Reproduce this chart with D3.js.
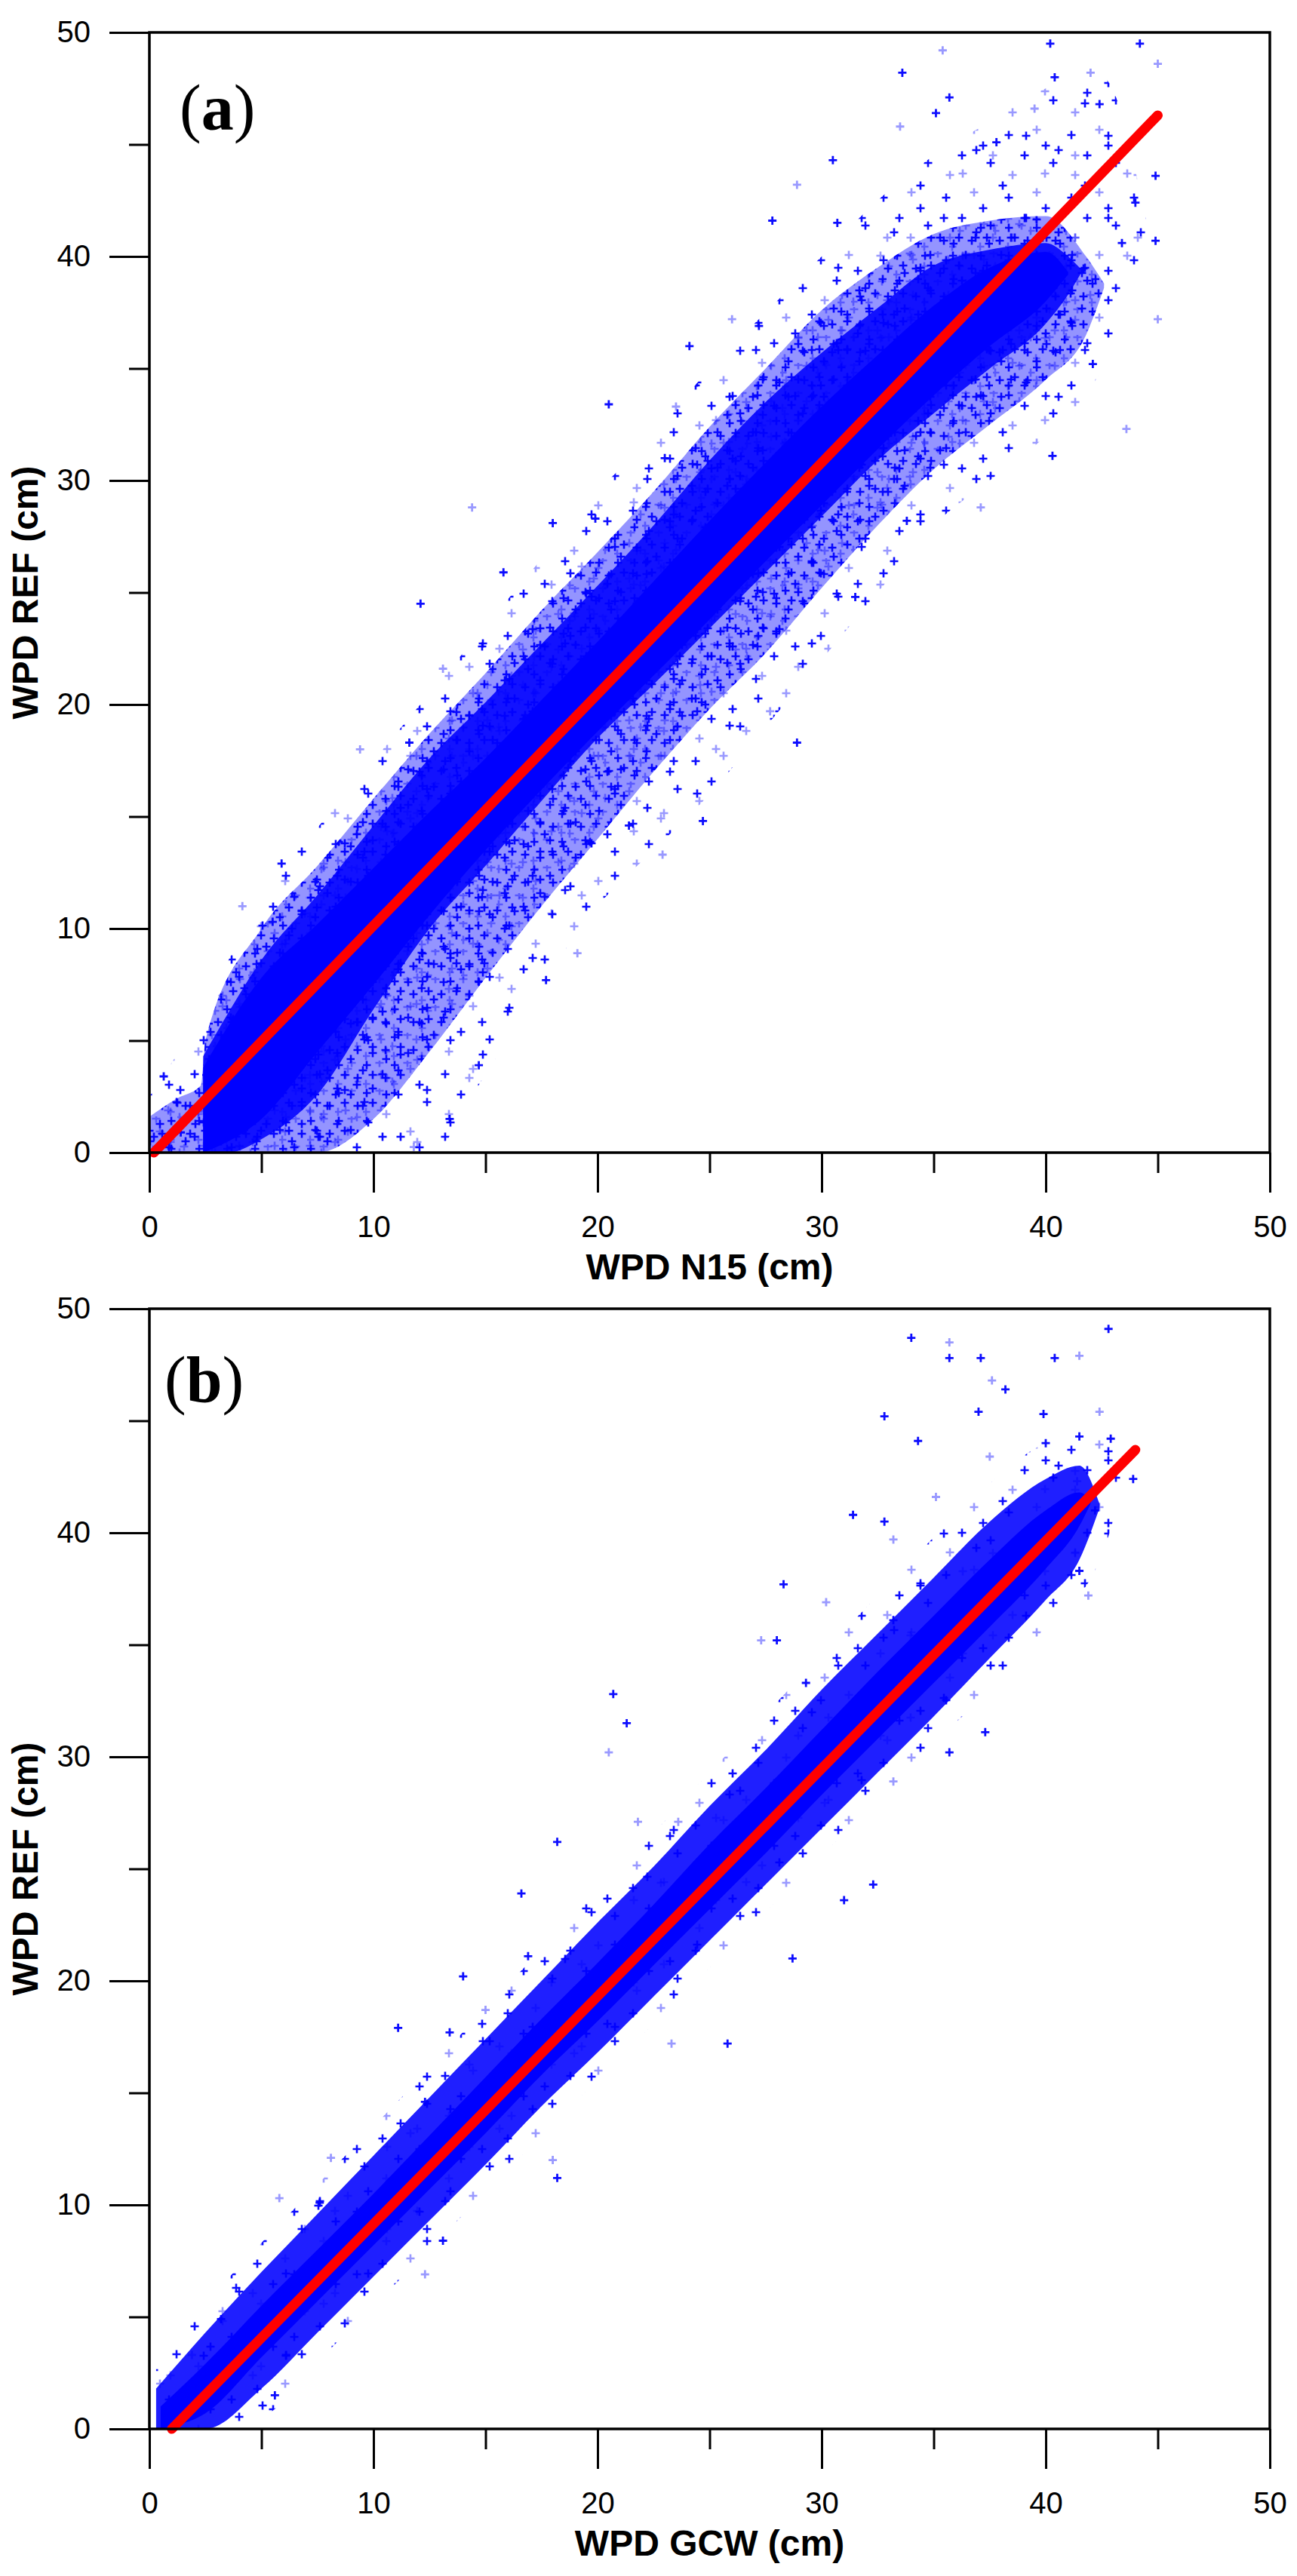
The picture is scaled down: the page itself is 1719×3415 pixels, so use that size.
<!DOCTYPE html>
<html>
<head>
<meta charset="utf-8">
<script src="https://cdn.jsdelivr.net/npm/d3@7"></script>
<style>
    body { margin: 0; background: #fff; }
    .tick text { font-family: "Liberation Sans", Arial, sans-serif; font-size: 40px; fill: #000; }
    .axis-title { font-family: "Liberation Sans", Arial, sans-serif; font-size: 48px; font-weight: bold; fill: #000; }
    .panel-label { font-family: "Liberation Serif", "Times New Roman", serif; font-size: 86px; fill: #000; }
</style>
</head>
<body>
<div id="chart"></div>
<script>
//axis ticks
const majorTicks = [0, 10, 20, 30, 40, 50];
const minorTicks = [5, 15, 25, 35, 45];

//panel (a): WPD N15 vs WPD REF, bands of the point cloud
//outer band of scattered crosses
const aSparseX = [0, 2.5, 5, 7.5, 10, 12.5, 15, 17.5, 20, 22.5, 25, 27.5, 30, 32.5, 35, 37.5, 40, 42.5, 44.5];
const aSparseLo = [0, 0, 0, 0, 0, 0, 3.5, 7.5, 11, 13.5, 16, 19, 22, 25, 28, 30, 32, 35, 40.5];
const aSparseHi = [2.5, 6.5, 11.5, 14.5, 17.5, 20.5, 23.5, 26.5, 29.5, 32, 35, 37.5, 40, 42.5, 44.5, 46, 47.5, 48, 41.5];
//speckled band
const aSpeckleX = [0, 1.2, 2.3, 2.5, 5, 7.5, 10, 12.5, 15, 17.5, 20, 22.5, 25, 27.5, 30, 32.5, 35, 37.5, 40, 41.8, 42.6];
const aSpeckleLo = [0, 0, 0, 0, 0, 0, 1.5, 4.5, 7.8, 11, 14, 17, 19.8, 22.3, 25.2, 28, 30.5, 32.5, 34.5, 36.5, 38.6];
const aSpeckleHi = [1.6, 2.4, 3.0, 5.0, 10, 12.8, 15.8, 18.7, 21.4, 24.2, 26.8, 29.5, 32.4, 35, 37.6, 39.5, 41, 41.6, 41.8, 40, 38.8];
//dense band
const aDenseX = [2.4, 3.5, 5, 7.5, 10, 12.5, 15, 17.5, 20, 22.5, 25, 27.5, 30, 32.5, 35, 37.5, 40, 41, 41.6];
const aDenseLo = [0, 0, 0.6, 2.6, 6.4, 10.0, 12.8, 15.7, 18.5, 20.9, 23.4, 25.9, 28.4, 30.9, 33.0, 35.0, 37.0, 38.3, 39.3];
const aDenseHi = [4.3, 6.2, 8.6, 11.5, 14.6, 17.6, 20.1, 22.7, 25.3, 28.0, 30.9, 33.5, 35.7, 37.7, 39.6, 40.3, 40.6, 40.0, 39.4];
//solid core
const aSolidX = [2.4, 5, 7.5, 10, 12.5, 15, 17.5, 20, 22.5, 25, 27.5, 30, 32.5, 35, 37.5, 40, 41];
const aSolidLo = [0, 1.5, 4.5, 7.5, 10.6, 13.5, 16.2, 18.8, 21.3, 23.8, 26.4, 28.9, 31.4, 33.8, 36.0, 38.0, 39.2];
const aSolidHi = [3.8, 7.8, 10.2, 12.7, 15.2, 17.6, 20.2, 22.8, 25.5, 28.2, 30.8, 33.3, 35.6, 37.8, 39.5, 40.2, 39.3];
//isolated points
const aOutX = [4.15, 5.9, 5.5, 9.4, 11.6, 12.1, 14.4, 15.8, 18.0, 13.1, 19.9, 20.5, 23.5, 23.0, 24.1, 26.0, 27.2, 27.8, 28.9, 30.5,
    30.7, 33.5, 33.6, 35.1, 35.4, 35.7, 37.8, 39.5, 40.2, 40.4, 42.0, 42.4, 44.2, 45.0, 44.9, 44.9, 45.0, 44.0, 43.4, 43.6,
    42.1, 40.3, 37.1, 33.8, 31.5, 27.7, 28.9, 24.7, 22.9, 21.4, 17.7, 19.1, 14.7, 13.4, 11.8, 0.64, 1.4];
const aOutY = [11.0, 12.9, 10.3, 18.0, 18.3, 24.5, 28.8, 25.9, 28.1, 21.6, 28.3, 33.4, 33.3, 31.0, 36.0, 37.2, 36.9, 41.6, 43.2, 44.3,
    41.5, 45.8, 48.2, 46.4, 49.2, 47.1, 45.1, 46.6, 49.5, 48.0, 48.2, 46.8, 49.5, 48.6, 43.6, 40.7, 37.2, 42.4, 40.6, 32.3,
    35.2, 31.1, 28.8, 28.2, 24.8, 19.7, 18.3, 14.8, 13.3, 14.6, 7.7, 8.9, 3.9, 1.5, 0.25, 3.4, 0.9];
//fitted line
const aFitX = [0.2, 45];
const aFitY = [0, 46.3];

//panel (b): WPD GCW vs WPD REF
const bSparseX = [0.3, 2.5, 5, 7.5, 10, 12.5, 15, 17.5, 20, 22.5, 25, 27.5, 30, 32.5, 35, 37.5, 40, 42.5, 43.5];
const bSparseLo = [0, 0, 0.5, 3.0, 5.5, 8.0, 10.6, 13.1, 15.6, 18.1, 20.6, 23.1, 25.6, 28.1, 30.6, 33.0, 35.8, 39.0, 42.3];
const bSparseHi = [3.0, 5.6, 8.3, 10.9, 13.5, 16.1, 18.8, 21.4, 24.0, 26.6, 29.3, 31.9, 34.6, 37.2, 39.8, 42.2, 44.0, 44.5, 42.7];
const bDenseX = [0.3, 2.5, 5, 7.5, 10, 12.5, 15, 17.5, 20, 22.5, 25, 27.5, 30, 32.5, 35, 37.5, 40, 41.5, 42.4];
const bDenseLo = [0, 0, 1.8, 4.3, 6.8, 9.3, 11.8, 14.4, 16.8, 19.3, 21.8, 24.3, 26.8, 29.3, 31.8, 34.4, 37.0, 38.8, 41.1];
const bDenseHi = [1.8, 4.3, 7.0, 9.6, 12.2, 14.8, 17.4, 20.0, 22.6, 25.1, 27.8, 30.3, 33.0, 35.5, 38.0, 40.5, 42.4, 43.0, 41.3];
const bSolidX = [0.5, 2.5, 5, 7.5, 10, 12.5, 15, 17.5, 20, 22.5, 25, 27.5, 30, 32.5, 35, 37.5, 40, 41.5, 42.0];
const bSolidLo = [0, 0.7, 3.2, 5.7, 8.2, 10.7, 13.2, 15.8, 18.2, 20.7, 23.2, 25.7, 28.3, 30.8, 33.3, 35.8, 38.4, 40.3, 41.3];
const bSolidHi = [1.0, 2.9, 5.5, 8.0, 10.5, 13.1, 15.7, 18.3, 20.8, 23.4, 26.1, 28.6, 31.2, 33.8, 36.3, 38.8, 41.0, 41.8, 41.5];
const bOutX = [5.8, 11.1, 13.4, 18.0, 18.2, 16.9, 20.5, 20.7, 21.3, 21.8, 32.3, 31.0, 27.3, 28.0, 28.3, 30.2, 31.4, 32.8, 33.2, 32.8,
    34.0, 35.7, 35.7, 37.1, 37.6, 38.2, 40.4, 41.5, 42.8, 41.5, 42.4, 42.9, 43.9, 41.4, 42.2, 41.5, 41.9, 37.3, 35.7, 33.2,
    39.9, 37.0, 37.5, 40.0, 34.3, 35.1, 33.2, 29.3, 23.6, 18.2, 16.6, 15.0, 14.0, 12.3, 8.1, 7.6, 3.2, 1.9, 5.6, 6.1,
    12.3, 13.1, 25.8, 23.3, 28.7];
const bOutY = [10.3, 17.9, 17.7, 12.0, 11.2, 21.1, 30.2, 32.8, 31.5, 27.1, 24.3, 23.6, 35.2, 35.2, 37.7, 36.9, 40.8, 40.5, 39.7, 45.2,
    48.7, 48.5, 47.8, 47.8, 46.8, 46.4, 47.8, 47.9, 49.1, 44.3, 45.4, 44.2, 42.4, 42.3, 41.0, 38.3, 37.2, 31.1, 30.2, 28.9,
    45.3, 45.4, 43.4, 44.0, 44.1, 41.6, 36.1, 33.3, 27.1, 26.2, 23.9, 18.7, 20.2, 14.6, 12.1, 10.1, 4.9, 3.3, 1.5, 3.3,
    6.9, 8.4, 17.2, 17.2, 21.0];
const bFitX = [1.0, 44.0];
const bFitY = [0, 43.7];

//page and plot geometry
const width = 1719, height = 3415;
const plotLeft = 198, plotSize = 1485;
const crossPath = 'M-5.5,0H5.5M0,-5.5V5.5';

const svg = d3.select('#chart')
    .append('svg')
    .attr('width', width)
    .attr('height', height);

//cross textures for the thinner parts of the cloud
//two tile sizes per texture so the repeat is less obvious
const defs = svg.append('defs');
function crossPattern(id, size, spots) {
    const p = defs.append('pattern')
        .attr('id', id)
        .attr('patternUnits', 'userSpaceOnUse')
        .attr('width', size)
        .attr('height', size);
    spots.forEach((s, i) => {
        p.append('path')
            .attr('d', crossPath)
            .attr('transform', 'translate(' + s[0] + ',' + s[1] + ')')
            .attr('stroke', '#0000ff')
            .attr('stroke-width', 2.6)
            .attr('stroke-opacity', i % 3 === 1 ? 0.4 : 0.95)
            .attr('fill', 'none');
    });
}
crossPattern('sparseCross1', 83, [[9, 13], [46, 6], [30, 40], [68, 50], [14, 66], [58, 27]]);
crossPattern('sparseCross2', 109, [[21, 28], [77, 12], [52, 71], [95, 90], [8, 97]]);
crossPattern('denseCross1', 37, [[5, 6], [22, 3], [13, 19], [30, 23], [4, 31]]);
crossPattern('denseCross2', 47, [[11, 9], [35, 15], [24, 33], [42, 41], [3, 24]]);

function zip(xs, ys) {
    return xs.map((x, i) => ({x: x, y: ys[i]}));
}

function band(xs, lo, hi) {
    return xs.map((x, i) => ({x: x, lo: lo[i], hi: hi[i]}));
}

function drawPanel(top, label, labelDx, labelDy, xTitle, d) {
    const xScale = d3.scaleLinear().domain([0, 50]).range([plotLeft, plotLeft + plotSize]);
    const yScale = d3.scaleLinear().domain([0, 50]).range([top + plotSize, top]);

    const g = svg.append('g');

    const area = d3.area()
        .curve(d3.curveMonotoneX)
        .x(p => xScale(p.x))
        .y0(p => yScale(p.lo))
        .y1(p => yScale(p.hi));

    //point cloud, drawn from the outside in
    const layers = [
        {x: d.sparseX, lo: d.sparseLo, hi: d.sparseHi, base: 0, textures: ['sparseCross1', 'sparseCross2']},
        {x: d.speckleX, lo: d.speckleLo, hi: d.speckleHi, base: 0.42, textures: ['denseCross1', 'denseCross2']},
        {x: d.denseX, lo: d.denseLo, hi: d.denseHi, base: 0.88, textures: []},
        {x: d.solidX, lo: d.solidLo, hi: d.solidHi, base: 1, textures: []}
    ];
    layers.forEach(l => {
        if (!l.x) return;
        const shape = band(l.x, l.lo, l.hi);
        if (l.base > 0) {
            g.append('path')
                .datum(shape)
                .attr('d', area)
                .attr('fill', '#0000ff')
                .attr('fill-opacity', l.base);
        }
        l.textures.forEach(t => {
            g.append('path')
                .datum(shape)
                .attr('d', area)
                .attr('fill', 'url(#' + t + ')');
        });
    });

    //single crosses away from the cloud
    g.append('g')
        .selectAll('path')
        .data(zip(d.outX, d.outY))
        .enter()
        .append('path')
        .attr('d', crossPath)
        .attr('transform', p => 'translate(' + xScale(p.x) + ',' + yScale(p.y) + ')')
        .attr('stroke', '#0000ff')
        .attr('stroke-width', 2.8)
        .attr('stroke-opacity', (p, i) => i % 3 === 0 ? 0.4 : 0.95)
        .attr('fill', 'none');

    //fitted line
    g.append('path')
        .datum(zip(d.fitX, d.fitY))
        .attr('d', d3.line().x(p => xScale(p.x)).y(p => yScale(p.y)))
        .attr('stroke', '#ff0000')
        .attr('stroke-width', 13)
        .attr('stroke-linecap', 'round')
        .attr('fill', 'none');

    //frame
    g.append('rect')
        .attr('x', xScale(0))
        .attr('y', yScale(50))
        .attr('width', xScale(50) - xScale(0))
        .attr('height', yScale(0) - yScale(50))
        .attr('fill', 'none')
        .attr('stroke', '#000')
        .attr('stroke-width', 3.5);

    //axes
    g.append('g')
        .attr('transform', 'translate(' + plotLeft + ',0)')
        .call(d3.axisLeft(yScale).tickValues(majorTicks).tickSize(53).tickPadding(25).tickFormat(d3.format('d')));
    g.append('g')
        .attr('transform', 'translate(' + plotLeft + ',0)')
        .call(d3.axisLeft(yScale).tickValues(minorTicks).tickSize(27).tickFormat(''));

    g.append('g')
        .attr('transform', 'translate(0,' + yScale(0) + ')')
        .call(d3.axisBottom(xScale).tickValues(majorTicks).tickSize(53).tickPadding(31).tickFormat(d3.format('d')));
    g.append('g')
        .attr('transform', 'translate(0,' + yScale(0) + ')')
        .call(d3.axisBottom(xScale).tickValues(minorTicks).tickSize(27).tickFormat(''));

    g.selectAll('.domain').remove();
    g.selectAll('.tick line').attr('stroke', '#000').attr('stroke-width', 3);

    //axis titles
    g.append('text')
        .attr('class', 'axis-title')
        .attr('x', (xScale(0) + xScale(50)) / 2)
        .attr('y', yScale(0) + 168)
        .attr('text-anchor', 'middle')
        .text(xTitle);

    g.append('text')
        .attr('class', 'axis-title')
        .attr('transform', 'translate(50,' + (yScale(0) + yScale(50)) / 2 + ') rotate(-90)')
        .attr('text-anchor', 'middle')
        .text('WPD REF (cm)');

    //panel letter
    const lab = g.append('text')
        .attr('class', 'panel-label')
        .attr('x', plotLeft + labelDx)
        .attr('y', top + labelDy);
    lab.append('tspan').text('(');
    lab.append('tspan').attr('font-weight', 'bold').text(label);
    lab.append('tspan').text(')');
}

drawPanel(43, 'a', 40, 129, 'WPD N15 (cm)', {
    sparseX: aSparseX, sparseLo: aSparseLo, sparseHi: aSparseHi,
    speckleX: aSpeckleX, speckleLo: aSpeckleLo, speckleHi: aSpeckleHi,
    denseX: aDenseX, denseLo: aDenseLo, denseHi: aDenseHi,
    solidX: aSolidX, solidLo: aSolidLo, solidHi: aSolidHi,
    outX: aOutX, outY: aOutY, fitX: aFitX, fitY: aFitY
});

drawPanel(1735, 'b', 20, 123, 'WPD GCW (cm)', {
    sparseX: bSparseX, sparseLo: bSparseLo, sparseHi: bSparseHi,
    denseX: bDenseX, denseLo: bDenseLo, denseHi: bDenseHi,
    solidX: bSolidX, solidLo: bSolidLo, solidHi: bSolidHi,
    outX: bOutX, outY: bOutY, fitX: bFitX, fitY: bFitY
});
</script>
</body>
</html>
